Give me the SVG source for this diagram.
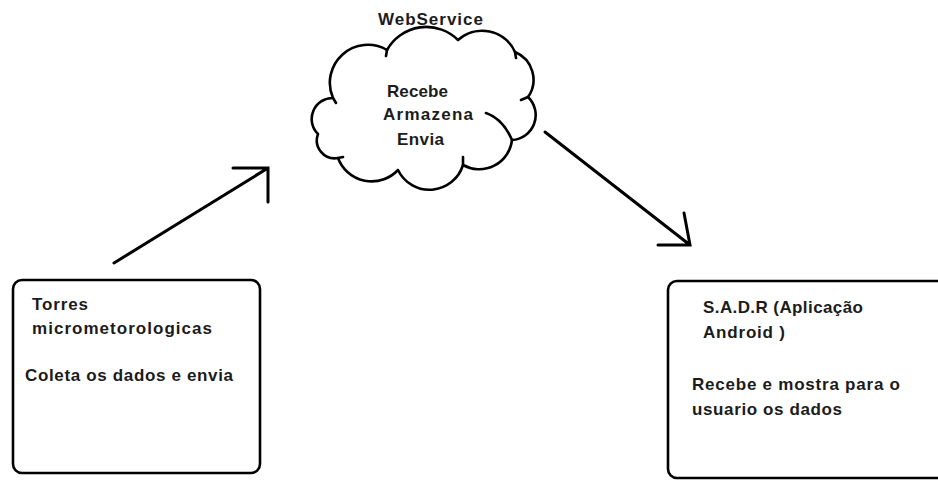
<svg xmlns="http://www.w3.org/2000/svg" width="938" height="481" viewBox="0 0 938 481">
<style>
.bg{fill:#ffffff}
.box{fill:#ffffff;stroke:#000;stroke-width:2.6}
.cloud{fill:none;stroke:#000;stroke-width:2.6;stroke-linejoin:round;stroke-linecap:round}
.conn{fill:none;stroke:#000;stroke-width:3;stroke-linecap:round}
.t{font-family:"Liberation Sans",Arial,sans-serif;font-weight:bold;font-size:17px;fill:#1c1c1c}
</style>
<rect class="bg" x="0" y="0" width="938" height="481"/>
<g id="webservice">
<path class="cloud" d="M387,50 A45,45 0 0 1 458,40 A36,36 0 0 1 515,52 A30,30 0 0 1 528,97 A25,25 0 0 1 512,140 A33,33 0 0 1 463,165 A35,35 0 0 1 398,170 A36,36 0 0 1 338,158 A18,18 0 0 1 318,134 A21,21 0 0 1 333,98 A38,38 0 0 1 387,50 Z"/>
<path class="cloud" d="M387,50 L386,56 M515,52 L516,58 M528,97 L521,100 M463,165 L463,157 M338,158 L343,157 M333,98 L336,103 M512,140 Q503,119 486,113"/>
<text class="t" x="378" y="25" textLength="105">WebService</text>
<text class="t" x="387" y="97" textLength="61">Recebe</text>
<text class="t" x="383" y="120" textLength="90">Armazena</text>
<text class="t" x="397" y="145" textLength="47">Envia</text>
</g>
<g id="torres">
<rect class="box" x="13" y="280" width="247" height="193" rx="9"/>
<text class="t" x="32" y="310" textLength="56">Torres</text>
<text class="t" x="32" y="334" textLength="180">micrometorologicas</text>
<text class="t" x="25" y="381" textLength="208">Coleta os dados e envia</text>
</g>
<g id="sadr">
<rect class="box" x="668" y="281" width="300" height="197" rx="9"/>
<text class="t" x="703" y="313" textLength="160">S.A.D.R (Aplicação</text>
<text class="t" x="703" y="338" textLength="82">Android )</text>
<text class="t" x="692" y="390" textLength="208">Recebe e mostra para o</text>
<text class="t" x="692" y="415" textLength="150">usuario os dados</text>
</g>
<g id="connectors">
<path class="conn" d="M114,263 L268,168 M233,168 L268,168 L268,202"/>
<path class="conn" d="M545,132 L690,245 M658,245 L690,245 L684,213"/>
</g>
</svg>
